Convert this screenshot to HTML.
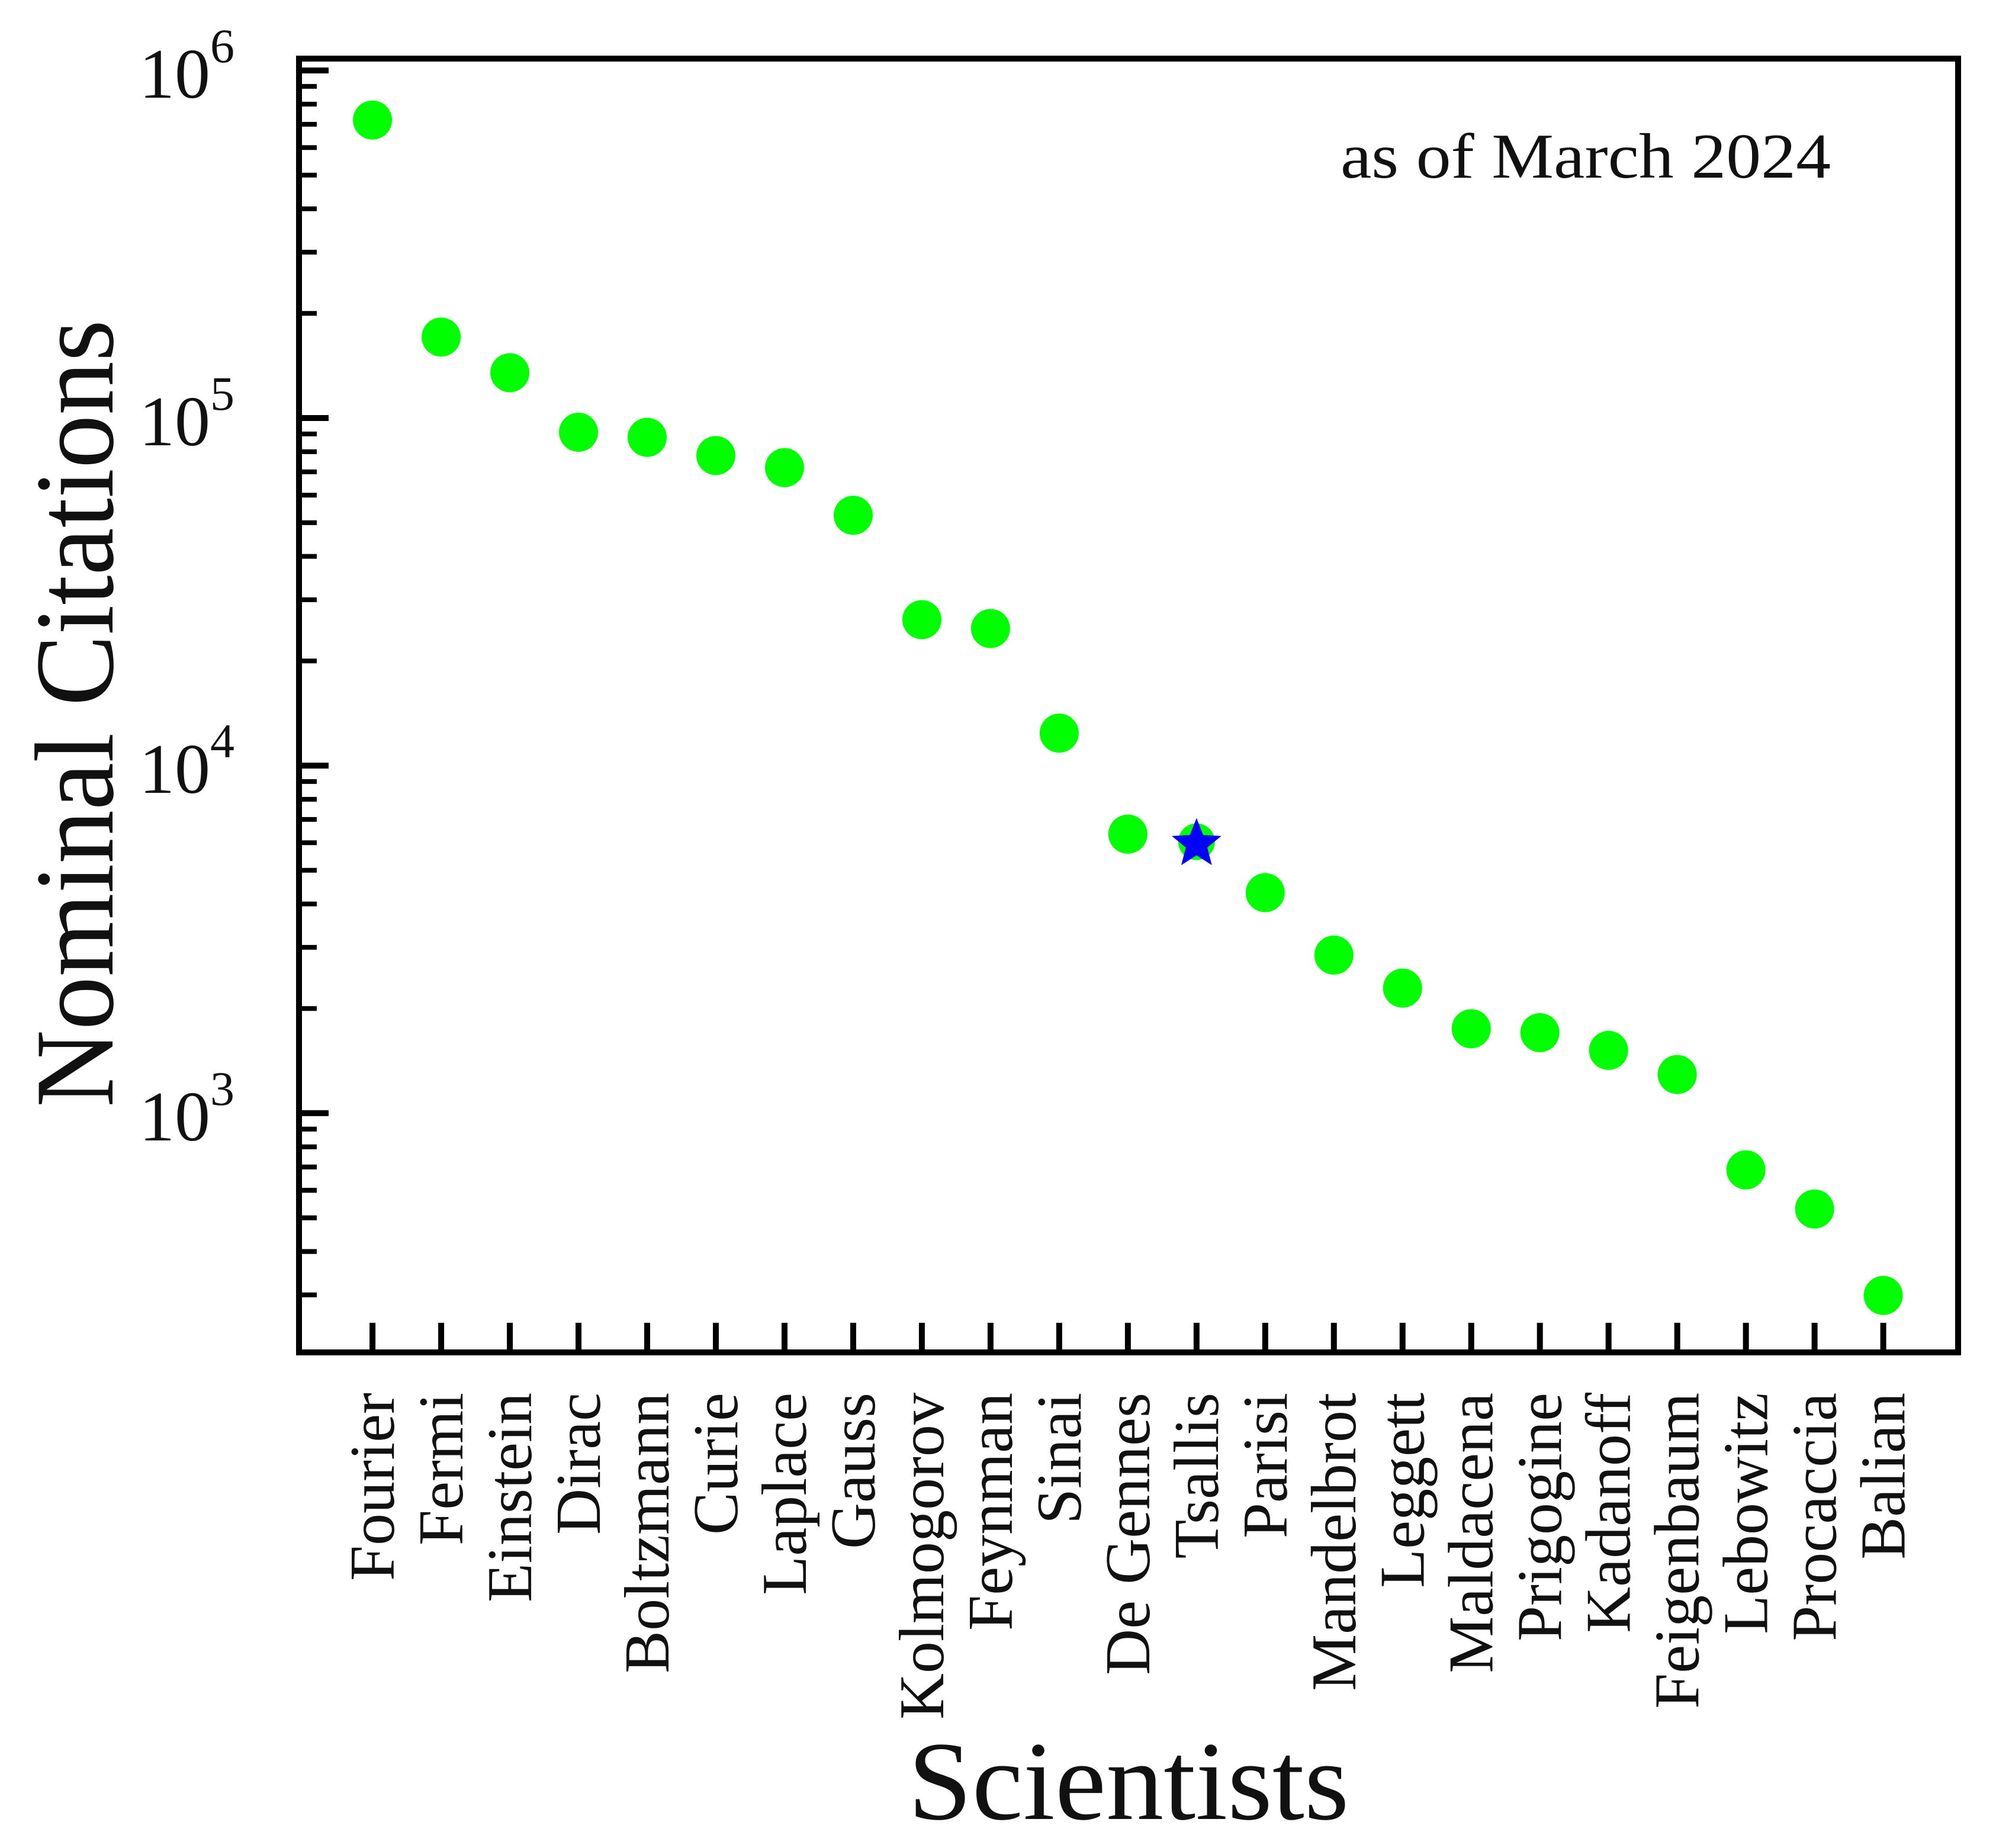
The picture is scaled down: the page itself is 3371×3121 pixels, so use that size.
<!DOCTYPE html>
<html><head><meta charset="utf-8">
<style>html,body{margin:0;padding:0;background:#fff}svg{display:block}text{font-family:"Liberation Serif",serif;fill:#111}</style>
</head><body>
<svg id="chart" width="3371" height="3121" viewBox="0 0 3371 3121" xmlns="http://www.w3.org/2000/svg">
<rect width="3371" height="3121" fill="#fff"/>
<g id="marks"></g>
<rect x="505" y="99" width="2802" height="2185" fill="none" stroke="#000" stroke-width="10"/>
<text x="2264" y="300" font-size="108" textLength="828" lengthAdjust="spacingAndGlyphs">as of March 2024</text>
<text transform="translate(190,1205) rotate(-90)" text-anchor="middle" font-size="190" textLength="1330" lengthAdjust="spacingAndGlyphs">Nominal Citations</text>
<text x="1906" y="3072" text-anchor="middle" font-size="190" textLength="745" lengthAdjust="spacingAndGlyphs">Scientists</text>
</svg>
<script>
const categories=["Fourier","Fermi","Einstein","Dirac","Boltzmann","Curie","Laplace","Gauss","Kolmogorov","Feynman","Sinai","De Gennes","Tsallis","Parisi","Mandelbrot","Leggett","Maldacena","Prigogine","Kadanoff","Feigenbaum","Lebowitz","Procaccia","Balian"];
const citations=[720000,171000,135000,91000,88000,78000,72000,52500,26300,24800,12400,6350,6040,4310,2850,2290,1750,1705,1516,1292,687,530,299];
const highlighted=["Tsallis"];
const yDecades=[3,4,5,6];
const yTickLabels=["3","4","5","6"];

const NS="http://www.w3.org/2000/svg";
const L=505,R=3307,T=99,B=2284;
const xMin=-1.07,xMax=23.09;
const yLogTop=6+20/587, yLogBot=6-(B-119)/587;
function xs(i){return L+(i-xMin)/(xMax-xMin)*(R-L);}
function ys(v){return T+(yLogTop-Math.log10(v))/(yLogTop-yLogBot)*(B-T);}
const svg=document.getElementById('chart');
const g=document.getElementById('marks');
function mk(tag,attrs,parent){const e=document.createElementNS(NS,tag);for(const k in attrs)e.setAttribute(k,attrs[k]);(parent||g).appendChild(e);return e;}

yDecades.forEach((d,k)=>{
  const y=ys(Math.pow(10,d));
  const t=mk('line',{x1:L,x2:L+50,y1:y,y2:y,stroke:'#000','stroke-width':10});
  
  
  const lab=mk('text',{x:396,y:y+46,'text-anchor':'end','font-size':120},svg);
  
  
  lab.textContent='10';
  const sup=mk('tspan',{dy:-60,'font-size':82},lab);
  sup.textContent=yTickLabels[k];
  for(let m=2;m<=9;m++){
    const v=m*Math.pow(10,d-1);
    const yy=ys(v);
    if(yy>B-5||yy<T+5)continue;
    const mt=mk('line',{x1:L,x2:L+30,y1:yy,y2:yy,stroke:'#000','stroke-width':8});
    
    
  }
});
for(let m=2;m<=9;m++){const yy=ys(m*100);if(yy<B-5){const mt=mk('line',{x1:L,x2:L+30,y1:yy,y2:yy,stroke:'#000','stroke-width':8});}}

categories.forEach((c,i)=>{
  const x=xs(i);
  const t=mk('line',{x1:x,x2:x,y1:B,y2:B-50,stroke:'#000','stroke-width':10});
  
  
  const lab=mk('text',{transform:`translate(${x+36},2352) rotate(-90)`,'text-anchor':'end','font-size':108},svg);
  
  
  lab.textContent=c;
  const y=ys(citations[i]);
  const p=mk('circle',{cx:x,cy:y,r:33,fill:'#00ff00'});
  
  
  if(highlighted.includes(c)){
    p.setAttribute('r',31);
    let pts=[];
    for(let k=0;k<10;k++){const a=-Math.PI/2+k*Math.PI/5;const r=k%2?19:44;pts.push((x+r*Math.cos(a)).toFixed(1)+','+(y+4+r*Math.sin(a)).toFixed(1));}
    const s=mk('polygon',{points:pts.join(' '),fill:'#0000ff'});
    
    
  }
});
</script>
</body></html>
